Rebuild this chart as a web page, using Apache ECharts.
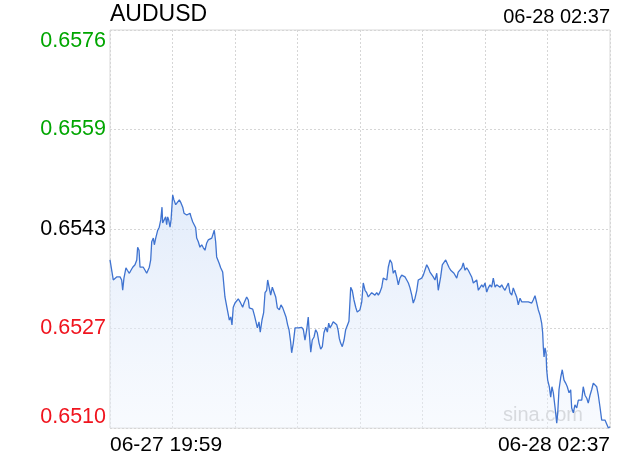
<!DOCTYPE html>
<html><head><meta charset="utf-8">
<script src="https://cdn.jsdelivr.net/npm/echarts@6/dist/echarts.min.js"></script>
<style>html,body{margin:0;padding:0;background:#fff}#c{width:620px;height:460px}</style>
</head><body><div id="c"></div>
<script>
const symbol = 'AUDUSD';
const lastTime = '06-28 02:37';
const watermark = 'sina.com';
const xLabels = ['06-27 19:59', '06-28 02:37'];
const sessionMinutes = 398;
const prevClose = 0.6543;
const yTicks = [0.65102, 0.65266, 0.6543, 0.65594, 0.65758];
const yLabels = ['0.6510', '0.6527', '0.6543', '0.6559', '0.6576'];

// minutes elapsed since 19:59
const elapsedMin = [
0,1.4,2.6,4.0,5.3,6.6,8.0,9.3,10.1,11.1,12.7,13.8,15.4,16.7,18.1,19.9,21.3,22.0,23.1,23.9,
25.2,26.5,27.9,29.2,30.5,31.3,32.4,33.2,34.5,35.3,36.4,37.2,38.0,39.2,40.4,41.4,41.9,43.2,44.3,45.1,
45.9,46.7,47.8,48.6,49.9,50.9,52.3,53.6,55.2,56.5,57.9,58.9,59.9,61.1,62.3,63.7,64.5,65.8,67.1,68.2,
69.0,70.3,71.6,73.0,74.3,75.6,77.0,78.2,79.6,81.0,82.2,83.0,84.1,84.9,86.8,88.1,89.7,91.5,93.4,95.0,
96.1,97.1,98.1,99.5,100.9,102.1,103.5,104.8,105.6,106.7,107.5,108.8,110.1,110.9,112.2,113.6,114.9,116.2,117.3,118.6,
119.6,121.0,122.3,123.4,124.7,125.5,126.8,127.9,129.2,130.5,131.9,133.2,134.8,136.1,137.5,138.7,140.1,141.4,142.5,143.8,
144.6,145.9,147.3,148.6,149.9,151.2,152.6,153.9,155.2,156.6,157.8,158.6,159.8,161.0,162.4,163.7,165.0,166.4,167.7,169.0,
170.3,171.7,173.0,174.1,175.1,176.5,177.7,179.1,180.5,181.5,182.5,183.6,184.9,186.3,187.6,188.9,190.2,191.6,192.9,194.2,
195.6,196.8,198.0,199.0,200.4,201.6,203.0,204.3,205.6,207.0,208.3,209.6,210.9,212.3,213.6,214.9,216.3,217.5,218.9,220.3,
221.5,222.9,224.3,225.5,226.9,228.2,229.5,230.8,232.2,233.5,234.8,236.2,237.5,238.8,240.2,241.4,242.8,244.2,245.4,246.8,
248.1,249.4,250.7,252.1,253.4,254.7,256.1,257.3,258.7,260.1,261.3,262.1,263.2,264.5,265.9,267.2,268.5,269.8,271.2,272.5,
273.8,274.9,276.0,277.2,278.6,280.0,281.2,282.6,283.9,285.2,286.6,287.9,289.2,290.5,291.9,293.2,294.5,295.9,297.1,298.5,
299.9,301.1,302.5,303.8,305.1,306.5,307.8,309.1,310.4,311.8,313.1,314.4,315.8,317.1,318.4,319.8,321.0,322.4,323.7,325.0,
326.4,327.7,329.0,330.3,331.7,333.0,334.3,335.7,336.9,338.3,339.7,340.9,342.3,343.6,344.4,344.9,345.5,346.3,347.1,347.6,
348.4,349.2,349.7,350.8,351.8,352.9,354.2,355.6,356.4,357.4,358.8,360.0,361.4,362.7,364.0,365.4,366.7,367.5,368.8,370.1,
371.5,372.8,374.1,375.5,376.7,378.1,379.5,380.7,382.1,383.4,384.7,386.1,387.4,388.7,390.0,391.4,392.7,394.0,395.4,396.7,
398.0
];

const price = [
0.65379,0.65376,0.65346,0.65346,0.65351,0.65349,0.65351,0.65346,0.65329,0.65349,0.65366,0.65362,0.65357,0.65362,0.65367,0.65371,0.65379,0.65400,0.65395,0.65367,
0.65366,0.65367,0.65362,0.65357,0.65354,0.65367,0.65379,0.65409,0.65415,0.65404,0.65415,0.65412,0.65428,0.65433,0.65445,0.65466,0.65440,0.65442,0.65450,0.65437,
0.65450,0.65445,0.65433,0.65445,0.65486,0.65478,0.65470,0.65473,0.65478,0.65473,0.65466,0.65456,0.65456,0.65453,0.65456,0.65456,0.65450,0.65442,0.65442,0.65432,
0.65415,0.65409,0.65400,0.65404,0.65399,0.65395,0.65407,0.65412,0.65409,0.65415,0.65412,0.65428,0.65409,0.65384,0.65374,0.65366,0.65359,0.65318,0.65297,0.65280,
0.65285,0.65272,0.65301,0.65308,0.65310,0.65315,0.65310,0.65311,0.65301,0.65308,0.65305,0.65318,0.65313,0.65300,0.65297,0.65298,0.65288,0.65277,0.65267,0.65277,
0.65260,0.65280,0.65292,0.65325,0.65329,0.65346,0.65343,0.65321,0.65334,0.65333,0.65318,0.65300,0.65297,0.65305,0.65300,0.65297,0.65285,0.65272,0.65264,0.65244,
0.65226,0.65242,0.65267,0.65270,0.65267,0.65268,0.65268,0.65264,0.65247,0.65264,0.65285,0.65259,0.65227,0.65247,0.65252,0.65264,0.65259,0.65242,0.65232,0.65236,
0.65259,0.65268,0.65260,0.65275,0.65267,0.65272,0.65277,0.65275,0.65272,0.65264,0.65250,0.65242,0.65236,0.65247,0.65264,0.65267,0.65278,0.65334,0.65328,0.65313,
0.65301,0.65293,0.65292,0.65297,0.65310,0.65341,0.65329,0.65325,0.65318,0.65316,0.65325,0.65325,0.65321,0.65325,0.65321,0.65326,0.65334,0.65349,0.65351,0.65346,
0.65367,0.65379,0.65374,0.65357,0.65362,0.65351,0.65338,0.65349,0.65354,0.65357,0.65351,0.65346,0.65341,0.65333,0.65321,0.65308,0.65316,0.65329,0.65346,0.65343,
0.65349,0.65354,0.65351,0.65371,0.65366,0.65359,0.65357,0.65351,0.65346,0.65357,0.65329,0.65326,0.65351,0.65371,0.65374,0.65379,0.65376,0.65367,0.65362,0.65359,
0.65357,0.65357,0.65349,0.65359,0.65357,0.65366,0.65374,0.65362,0.65366,0.65362,0.65359,0.65351,0.65341,0.65343,0.65346,0.65329,0.65326,0.65338,0.65334,0.65341,
0.65326,0.65333,0.65338,0.65334,0.65349,0.65334,0.65338,0.65338,0.65334,0.65338,0.65333,0.65329,0.65326,0.65341,0.65325,0.65321,0.65333,0.65325,0.65318,0.65305,
0.65316,0.65310,0.65313,0.65310,0.65313,0.65310,0.65313,0.65308,0.65313,0.65320,0.65308,0.65297,0.65288,0.65275,0.65259,0.65236,0.65219,0.65234,0.65226,0.65198,
0.65181,0.65184,0.65170,0.65153,0.65170,0.65160,0.65137,0.65110,0.65127,0.65165,0.65186,0.65198,0.65181,0.65176,0.65170,0.65160,0.65165,0.65135,0.65127,0.65140,
0.65135,0.65148,0.65151,0.65148,0.65170,0.65156,0.65151,0.65143,0.65156,0.65165,0.65176,0.65173,0.65170,0.65156,0.65137,0.65115,0.65112,0.65115,0.65112,0.65102,
0.65104
];

const FONT = '"Liberation Sans", Arial, Helvetica, sans-serif';
const chart = echarts.init(document.getElementById('c'), null, { renderer: 'canvas' });

function yLabel(value) {
  let best = 0;
  for (let i = 1; i < yTicks.length; i++) {
    if (Math.abs(yTicks[i] - value) < Math.abs(yTicks[best] - value)) best = i;
  }
  const v = yTicks[best];
  const style = v > prevClose + 1e-9 ? 'up' : (v < prevClose - 1e-9 ? 'down' : 'flat');
  return '{' + style + '|' + yLabels[best] + '}';
}

chart.setOption({
  animation: false,
  backgroundColor: '#fff',
  title: [
    { text: symbol, left: 110, top: 3, padding: 0,
      textStyle: { fontFamily: FONT, fontSize: 23, fontWeight: 'normal', color: '#000' } },
    { text: lastTime, right: 10, top: 7, padding: 0,
      textStyle: { fontFamily: FONT, fontSize: 20, fontWeight: 'normal', color: '#000' } }
  ],
  grid: { left: 110, right: 10, top: 30, bottom: 32, show: true, borderColor: '#d9d9d9', borderWidth: 1, backgroundColor: 'transparent' },
  graphic: [
    { type: 'text', right: 37, bottom: 35, z: 0,
      style: { text: watermark, fontFamily: FONT, fontSize: 20, fill: '#c6c6c6' } }
  ],
  xAxis: {
    type: 'value', min: 0, max: sessionMinutes, interval: sessionMinutes / 8,
    axisLine: { show: false }, axisTick: { show: false },
    splitLine: { show: true, lineStyle: { color: '#d6d6d6', type: [2, 2], width: 1 } },
    axisLabel: {
      show: true, margin: 7, color: '#000', fontFamily: FONT, fontSize: 21,
      alignMinLabel: 'left', alignMaxLabel: 'right',
      formatter: function (v) {
        if (Math.abs(v) < 1e-6) return xLabels[0];
        if (Math.abs(v - sessionMinutes) < 1e-6) return xLabels[1];
        return '';
      }
    }
  },
  yAxis: {
    type: 'value', min: yTicks[0], max: yTicks[yTicks.length - 1],
    interval: 0.00164, scale: true,
    axisLine: { show: false }, axisTick: { show: false },
    splitLine: { show: true, lineStyle: { color: '#d6d6d6', type: [2, 2], width: 1 } },
    axisLabel: {
      show: true, margin: 4, fontFamily: FONT, fontSize: 21.5,
      verticalAlignMinLabel: 'bottom', verticalAlignMaxLabel: 'top',
      formatter: yLabel,
      rich: {
        up: { color: '#00a600', fontFamily: FONT, fontSize: 21.5 },
        down: { color: '#f0141e', fontFamily: FONT, fontSize: 21.5 },
        flat: { color: '#000', fontFamily: FONT, fontSize: 21.5 }
      }
    }
  },
  series: [{
    type: 'line',
    data: elapsedMin.map((m, i) => [m, price[i]]),
    showSymbol: false,
    smooth: false,
    z: 3,
    lineStyle: { color: '#3f73d0', width: 1.3 },
    areaStyle: {
      origin: 'start',
      color: new echarts.graphic.LinearGradient(0, 0, 0, 1, [
        { offset: 0, color: 'rgba(212,226,248,0.95)' },
        { offset: 1, color: 'rgba(238,244,253,0.6)' }
      ])
    },
    markLine: {
      silent: true, symbol: 'none', animation: false,
      label: { show: false },
      lineStyle: { color: '#a0a0a0', type: [4, 2], width: 1 },
      data: [{ yAxis: prevClose }]
    }
  }]
});
</script>
</body></html>
